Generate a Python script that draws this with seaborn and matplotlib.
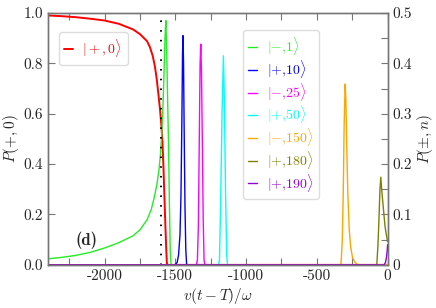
import numpy as np, pandas as pd
import matplotlib
matplotlib.use("Agg")  # headless
import matplotlib.pyplot as plt
import seaborn as sns
from matplotlib.ticker import MultipleLocator, FixedLocator, FixedFormatter

# |+,0> (left axis)
red_x = [-2400, -2300, -2200, -2100, -2000, -1900, -1800, -1750, -1700, -1680, -1660,
         -1645, -1632, -1620, -1608, -1598, -1591, -1584, -1577, -1570, -1564, -1560,
         -1557, -1500, 0]
red_y = [0.99, 0.987, 0.983, 0.977, 0.97, 0.957, 0.935, 0.916, 0.888, 0.865, 0.83,
         0.79, 0.74, 0.68, 0.615, 0.55, 0.485, 0.39, 0.27, 0.15, 0.06, 0.01,
         0.0, 0.0, 0.0]

# |-,1> (drawn on left axis scale)
green_x = [-2400, -2300, -2200, -2100, -2000, -1900, -1800, -1750, -1700, -1670, -1650,
           -1630, -1615, -1605, -1598, -1588, -1580, -1573, -1567, -1561, -1555, -1548,
           -1542, -1536, -1530, 0]
green_y = [0.024, 0.03, 0.038, 0.05, 0.067, 0.088, 0.115, 0.139, 0.179, 0.22, 0.265,
           0.32, 0.38, 0.44, 0.50, 0.62, 0.76, 0.90, 0.97, 0.85, 0.67, 0.48,
           0.25, 0.06, 0.0, 0.0]

# right axis series
blue_x = [-2400, -1502, -1487, -1477, -1467, -1460, -1454, -1449, -1446, -1442, -1438, -1432, -1426, -1420, 0]
blue_y = [0.0, 0.0, 0.005, 0.02, 0.06, 0.14, 0.28, 0.42, 0.455, 0.40, 0.28, 0.12, 0.03, 0.0, 0.0]

mag_x = [-2400, -1352, -1344, -1337, -1331, -1325, -1320, -1315, -1309, -1303, -1297, -1292, 0]
mag_y = [0.0, 0.0, 0.01, 0.08, 0.24, 0.40, 0.438, 0.38, 0.24, 0.09, 0.01, 0.0, 0.0]

cyan_x = [-2400, -1195, -1188, -1180, -1170, -1160, -1153, -1145, -1137, -1131, 0]
cyan_y = [0.0, 0.0, 0.01, 0.12, 0.30, 0.415, 0.32, 0.14, 0.02, 0.0, 0.0]

orange_x = [-2400, -335, -329, -320, -313, -307, -300, -295, -289, -281, -271, -261, -248, -233, -215, -195, 0]
orange_y = [0.0, 0.0, 0.003, 0.05, 0.15, 0.28, 0.359, 0.33, 0.24, 0.14, 0.07, 0.035, 0.015, 0.006, 0.001, 0.0, 0.0]

olive_x = [-2400, -80, -76, -68, -60, -54, -48, -42, -34, -26, -18, -9, 0]
olive_y = [0.0, 0.0, 0.002, 0.04, 0.10, 0.15, 0.174, 0.15, 0.125, 0.10, 0.076, 0.06, 0.046]

purple_x = [-2400, -30, -22, -15, -8, -3, 0]
purple_y = [0.0, 0.0, 0.001, 0.005, 0.015, 0.028, 0.04]

t_cross = -1600

right_series = [
    (r"$|{+}{,}10\rangle$", "#0000ff", blue_x, blue_y),
    (r"$|{-}{,}25\rangle$", "#ff00ff", mag_x, mag_y),
    (r"$|{+}{,}50\rangle$", "#00ffff", cyan_x, cyan_y),
    (r"$|{-}{,}150\rangle$", "#ffa500", orange_x, orange_y),
    (r"$|{+}{,}180\rangle$", "#808000", olive_x, olive_y),
    (r"$|{+}{,}190\rangle$", "#9400d3", purple_x, purple_y),
]

x_ticks = [-2000, -1500, -1000, -500, 0]
x_labels = ["-2000", "-1500", "-1000", "-500", "0"]
yl_ticks = [0.0, 0.2, 0.4, 0.6, 0.8, 1.0]
yl_labels = ["0.0", "0.2", "0.4", "0.6", "0.8", "1.0"]
yr_ticks = [0.0, 0.1, 0.2, 0.3, 0.4, 0.5]
yr_labels = ["0", "0.1", "0.2", "0.3", "0.4", "0.5"]

sns.set_style("ticks")
plt.rcParams["font.family"] = "serif"
plt.rcParams["font.serif"] = ["cmr10", "DejaVu Serif"]
plt.rcParams["mathtext.fontset"] = "cm"
plt.rcParams["axes.unicode_minus"] = False
plt.rcParams["font.size"] = 11

spine_col = "#777777"
green_col = "#22ee22"

fig, ax1 = plt.subplots(figsize=(4.36, 3.08), dpi=100)
fig.subplots_adjust(left=0.110, right=0.889, bottom=0.140, top=0.958)
ax2 = ax1.twinx()

df_red = pd.DataFrame({"x": red_x, "y": red_y})
df_green = pd.DataFrame({"x": green_x, "y": green_y})
sns.lineplot(data=df_red, x="x", y="y", ax=ax1, color="#ff0000", lw=1.4,
             estimator=None, label=r"$|+,0\rangle$")
sns.lineplot(data=df_green, x="x", y="y", ax=ax1, color=green_col, lw=1.0,
             estimator=None, legend=False)
ax1.axvline(t_cross, ymin=0, ymax=0.99, color="black", lw=1.4, ls=(0, (0.8, 4.2)))

for lab, col, xs, ys in right_series:
    sns.lineplot(data=pd.DataFrame({"x": xs, "y": ys}), x="x", y="y", ax=ax2,
                 color=col, lw=1.0, estimator=None, label=lab)

ax1.set_xlim(-2400, 0)
ax1.set_ylim(0, 1)
ax2.set_ylim(0, 0.5)

ax1.xaxis.set_major_locator(FixedLocator(x_ticks))
ax1.xaxis.set_major_formatter(FixedFormatter(x_labels))
ax1.xaxis.set_minor_locator(MultipleLocator(250))
ax1.yaxis.set_major_locator(FixedLocator(yl_ticks))
ax1.yaxis.set_major_formatter(FixedFormatter(yl_labels))
ax2.yaxis.set_major_locator(FixedLocator(yr_ticks))
ax2.yaxis.set_major_formatter(FixedFormatter(yr_labels))
ax2.yaxis.set_minor_locator(MultipleLocator(0.05))

ax1.tick_params(axis="both", which="both", direction="in", length=5, width=0.8,
                color=spine_col, top=True, right=False, labelsize=11)
ax2.tick_params(axis="y", which="both", direction="in", length=5, width=0.8,
                color=spine_col, labelsize=11)
ax2.tick_params(axis="x", which="both", top=False, bottom=False, labelbottom=False)
for a in (ax1, ax2):
    for s in a.spines.values():
        s.set_color(spine_col)
        s.set_linewidth(1.0)

ax1.set_xlabel(r"$v(t-T)/\omega$", fontsize=11, labelpad=2)
ax1.set_ylabel(r"$P(+,0)$", fontsize=11, labelpad=2)
ax2.set_ylabel(r"$P(\pm,n)$", fontsize=11, labelpad=2)

ax1.text(-2131, 0.099, "(d)", fontname="cmb10", fontsize=12, ha="center", va="center")

h1, l1 = ax1.get_legend_handles_labels()
ax1.legend(h1, l1, loc="upper left", bbox_to_anchor=(0.032, 0.925),
           borderaxespad=0, handlelength=0.6, handletextpad=0.7,
           labelcolor="linecolor", fontsize=10, framealpha=1,
           edgecolor="#dddddd")
green_handle = plt.Line2D([], [], color=green_col, lw=1.0)
h2, l2 = ax2.get_legend_handles_labels()
ax2.legend([green_handle] + h2, [r"$|{-}{,}1\rangle$"] + l2, loc="upper left",
           bbox_to_anchor=(0.574, 0.933), borderaxespad=0, handlelength=0.6,
           handletextpad=0.7, labelspacing=0.05, labelcolor="linecolor",
           fontsize=10, framealpha=1, edgecolor="#dddddd")

fig.savefig("out.png", dpi=100)
plt.close(fig)
